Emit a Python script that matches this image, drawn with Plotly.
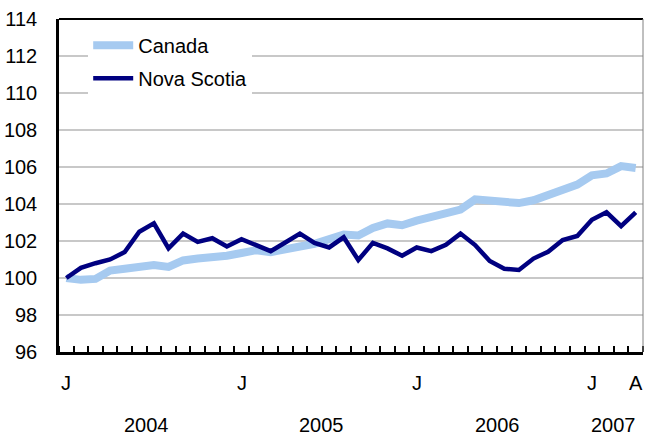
import plotly.graph_objects as go

months = list(range(40))  # Jan 2004 .. Apr 2007
canada = [100.0, 99.9, 99.95, 100.4, 100.5, 100.65, 100.7, 100.6, 100.95, 101.05,
          101.1, 101.2, 101.35, 101.5, 101.4, 101.6, 101.7, 101.85, 102.1, 102.35,
          102.3, 102.7, 102.95, 102.85, 103.1, 103.3, 103.6, 103.7, 104.25, 104.15,
          104.1, 104.05, 104.2, 104.5, 104.7, 105.05, 105.55, 105.65, 106.05, 105.95]
nova_scotia = [100.0, 100.55, 100.8, 101.0, 101.4, 102.5, 102.95, 101.6, 102.4, 101.95,
               102.15, 101.7, 102.1, 101.8, 101.45, 101.92, 102.4, 101.9, 101.65, 102.2,
               100.97, 101.9, 101.6, 101.2, 101.65, 101.45, 101.8, 102.4, 101.78, 100.92,
               100.5, 100.43, 101.05, 101.42, 102.05, 102.27, 103.15, 103.55, 102.8, 103.55]

month_tick_pos = [0, 12, 24, 36, 39]
month_tick_text = ["J", "J", "J", "J", "A"]
year_pos = [5.5, 17.5, 29.5, 37.5]
year_text = ["2004", "2005", "2006", "2007"]

FONT = "Liberation Sans, Arial, sans-serif"

fig = go.Figure()
fig.add_trace(go.Scatter(x=months, y=canada, mode="lines", name="Canada",
                         line=dict(color="#a6caf0", width=8), legendgroup="a"))
fig.add_trace(go.Scatter(x=months, y=nova_scotia, mode="lines", name="Nova Scotia",
                         line=dict(color="#000080", width=4.5), legendgroup="b"))

plot_top, plot_bottom = 19, 352


def py(px):
    return (plot_bottom - px) / (plot_bottom - plot_top)


annotations = []
for p, t in zip(month_tick_pos, month_tick_text):
    annotations.append(dict(x=p, y=py(383), xref="x", yref="paper", yanchor="middle",
                            text=t, showarrow=False,
                            font=dict(size=20, color="black", family=FONT)))
for p, t in zip(year_pos, year_text):
    annotations.append(dict(x=p, y=py(425), xref="x", yref="paper", yanchor="middle",
                            text=t, showarrow=False,
                            font=dict(size=20, color="black", family=FONT)))

fig.update_layout(
    width=646, height=435,
    margin=dict(l=59, r=3, t=19, b=83, autoexpand=False),
    paper_bgcolor="white", plot_bgcolor="white",
    font=dict(family=FONT, size=20, color="black"),
    showlegend=True,
    legend=dict(x=0.05, y=0.98, xanchor="left", yanchor="top", bgcolor="white",
                font=dict(size=20), tracegroupgap=4, itemwidth=40),
    xaxis=dict(range=[-0.5, 39.5], showgrid=False, zeroline=False, automargin=False,
               showticklabels=False, ticks="",
               showline=True, linecolor="black", linewidth=2.5, mirror=False,
               minor=dict(tickmode="linear", tick0=-0.5, dtick=1, ticks="inside",
                          ticklen=6, tickwidth=2, tickcolor="black", showgrid=False)),
    yaxis=dict(range=[96, 114], dtick=2, tick0=96, showgrid=True, gridcolor="#c8c8c8",
               gridwidth=1.5, zeroline=False, showline=True, linecolor="black",
               linewidth=2.5, ticks="", ticklabelstandoff=15, automargin=False,
               tickfont=dict(size=20)),
    annotations=annotations,
    shapes=[
        dict(type="line", xref="paper", yref="paper", x0=0, x1=1, y0=1, y1=1,
             line=dict(color="black", width=2)),
        dict(type="line", xref="paper", yref="paper", x0=1, x1=1, y0=0, y1=1,
             line=dict(color="#808080", width=1)),
    ],
)

fig.write_html("out.html", config={"displayModeBar": False},
               post_script="document.body.style.margin='0px';document.body.style.overflow='hidden';")
